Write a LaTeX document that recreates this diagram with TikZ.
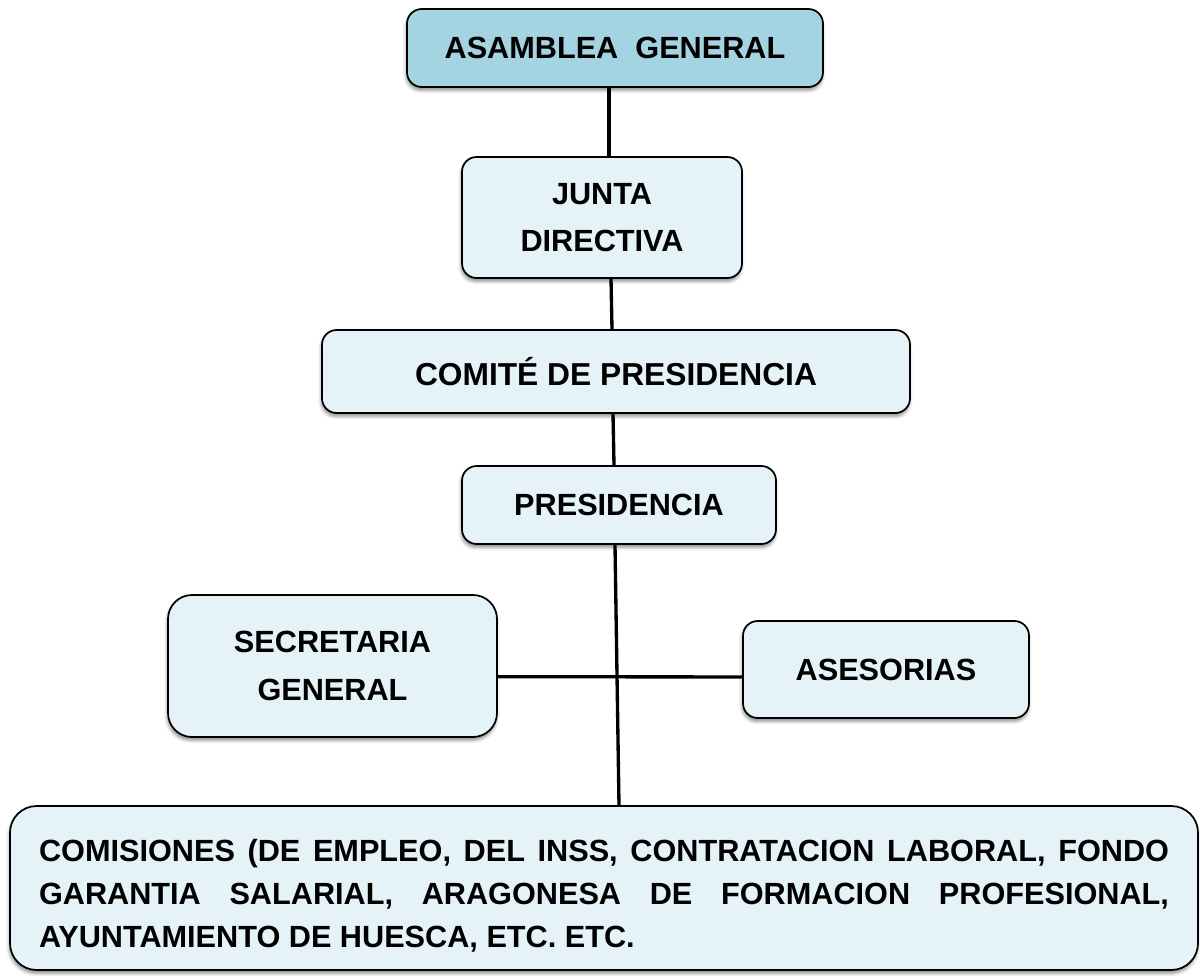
\documentclass[tikz,border=0pt]{standalone}
\usepackage{fontspec}
\setmainfont{Liberation Sans}
\usetikzlibrary{shadows.blur}
\definecolor{topfill}{HTML}{A4D4E1}
\definecolor{boxfill}{HTML}{E5F3F8}
\tikzset{
  orgbox/.style={draw=black, line width=1.3pt, fill=boxfill, rounded corners=11pt,
    align=center, inner sep=0pt, font=\fontsize{23}{35.5}\selectfont\bfseries,
    blur shadow={shadow xshift=-0.5pt, shadow yshift=-2.5pt, shadow blur radius=2.5pt, shadow opacity=45}},
  link/.style={draw=black, line width=2.5pt}
}
\begin{document}
\begin{tikzpicture}[x=0.75pt,y=-0.75pt]
\useasboundingbox (0,0) rectangle (1200,975);
\node[orgbox, fill=topfill, minimum width=312pt, minimum height=58.5pt] (A) at (615,48) {ASAMBLEA\ \ GENERAL};
\node[orgbox, minimum width=210pt, minimum height=90.75pt, text depth=0pt] (J) at (602,217.5) {\raisebox{0pt}{}JUNTA\\DIRECTIVA};
\node[orgbox, minimum width=441pt, minimum height=62.25pt] (C) at (616,371.5) {\fontsize{23.8}{30}\selectfont COMITÉ DE PRESIDENCIA};
\node[orgbox, minimum width=235.5pt, minimum height=58.5pt] (P) at (619,505) {PRESIDENCIA};
\node[orgbox, rounded corners=18pt, minimum width=246.75pt, minimum height=106.5pt] (S) at (332.5,666) {SECRETARIA\\GENERAL};
\node[orgbox, minimum width=214.5pt, minimum height=72.75pt] (E) at (886,669.5) {ASESORIAS};
\node[orgbox, rounded corners=20pt, minimum width=891pt, minimum height=123pt] (K) at (604,888) {};
\node[text width=847.5pt, align=justify, inner sep=0pt, font=\fontsize{23}{32.25}\selectfont\bfseries] (Kt) at (604,895.5)
  {COMISIONES (DE EMPLEO, DEL INSS, CONTRATACION LABORAL, FONDO\linebreak GARANTIA SALARIAL, ARAGONESA DE FORMACION PROFESIONAL,\linebreak AYUNTAMIENTO DE HUESCA, ETC. ETC.};
\draw[link] ([xshift=-4.5pt]A.south) -- ([xshift=5.25pt]J.north);
\draw[link] ([xshift=6.75pt]J.south) -- ([xshift=-3pt]C.north);
\draw[link] ([xshift=-2.25pt]C.south) -- ([xshift=-3.75pt]P.north);
\draw[link] ([xshift=-3pt]P.south) -- ([xshift=11.25pt]K.north);
\draw[link] ([yshift=-8pt]S.east) -- ([yshift=-5.6pt]E.west);
\end{tikzpicture}
\end{document}
